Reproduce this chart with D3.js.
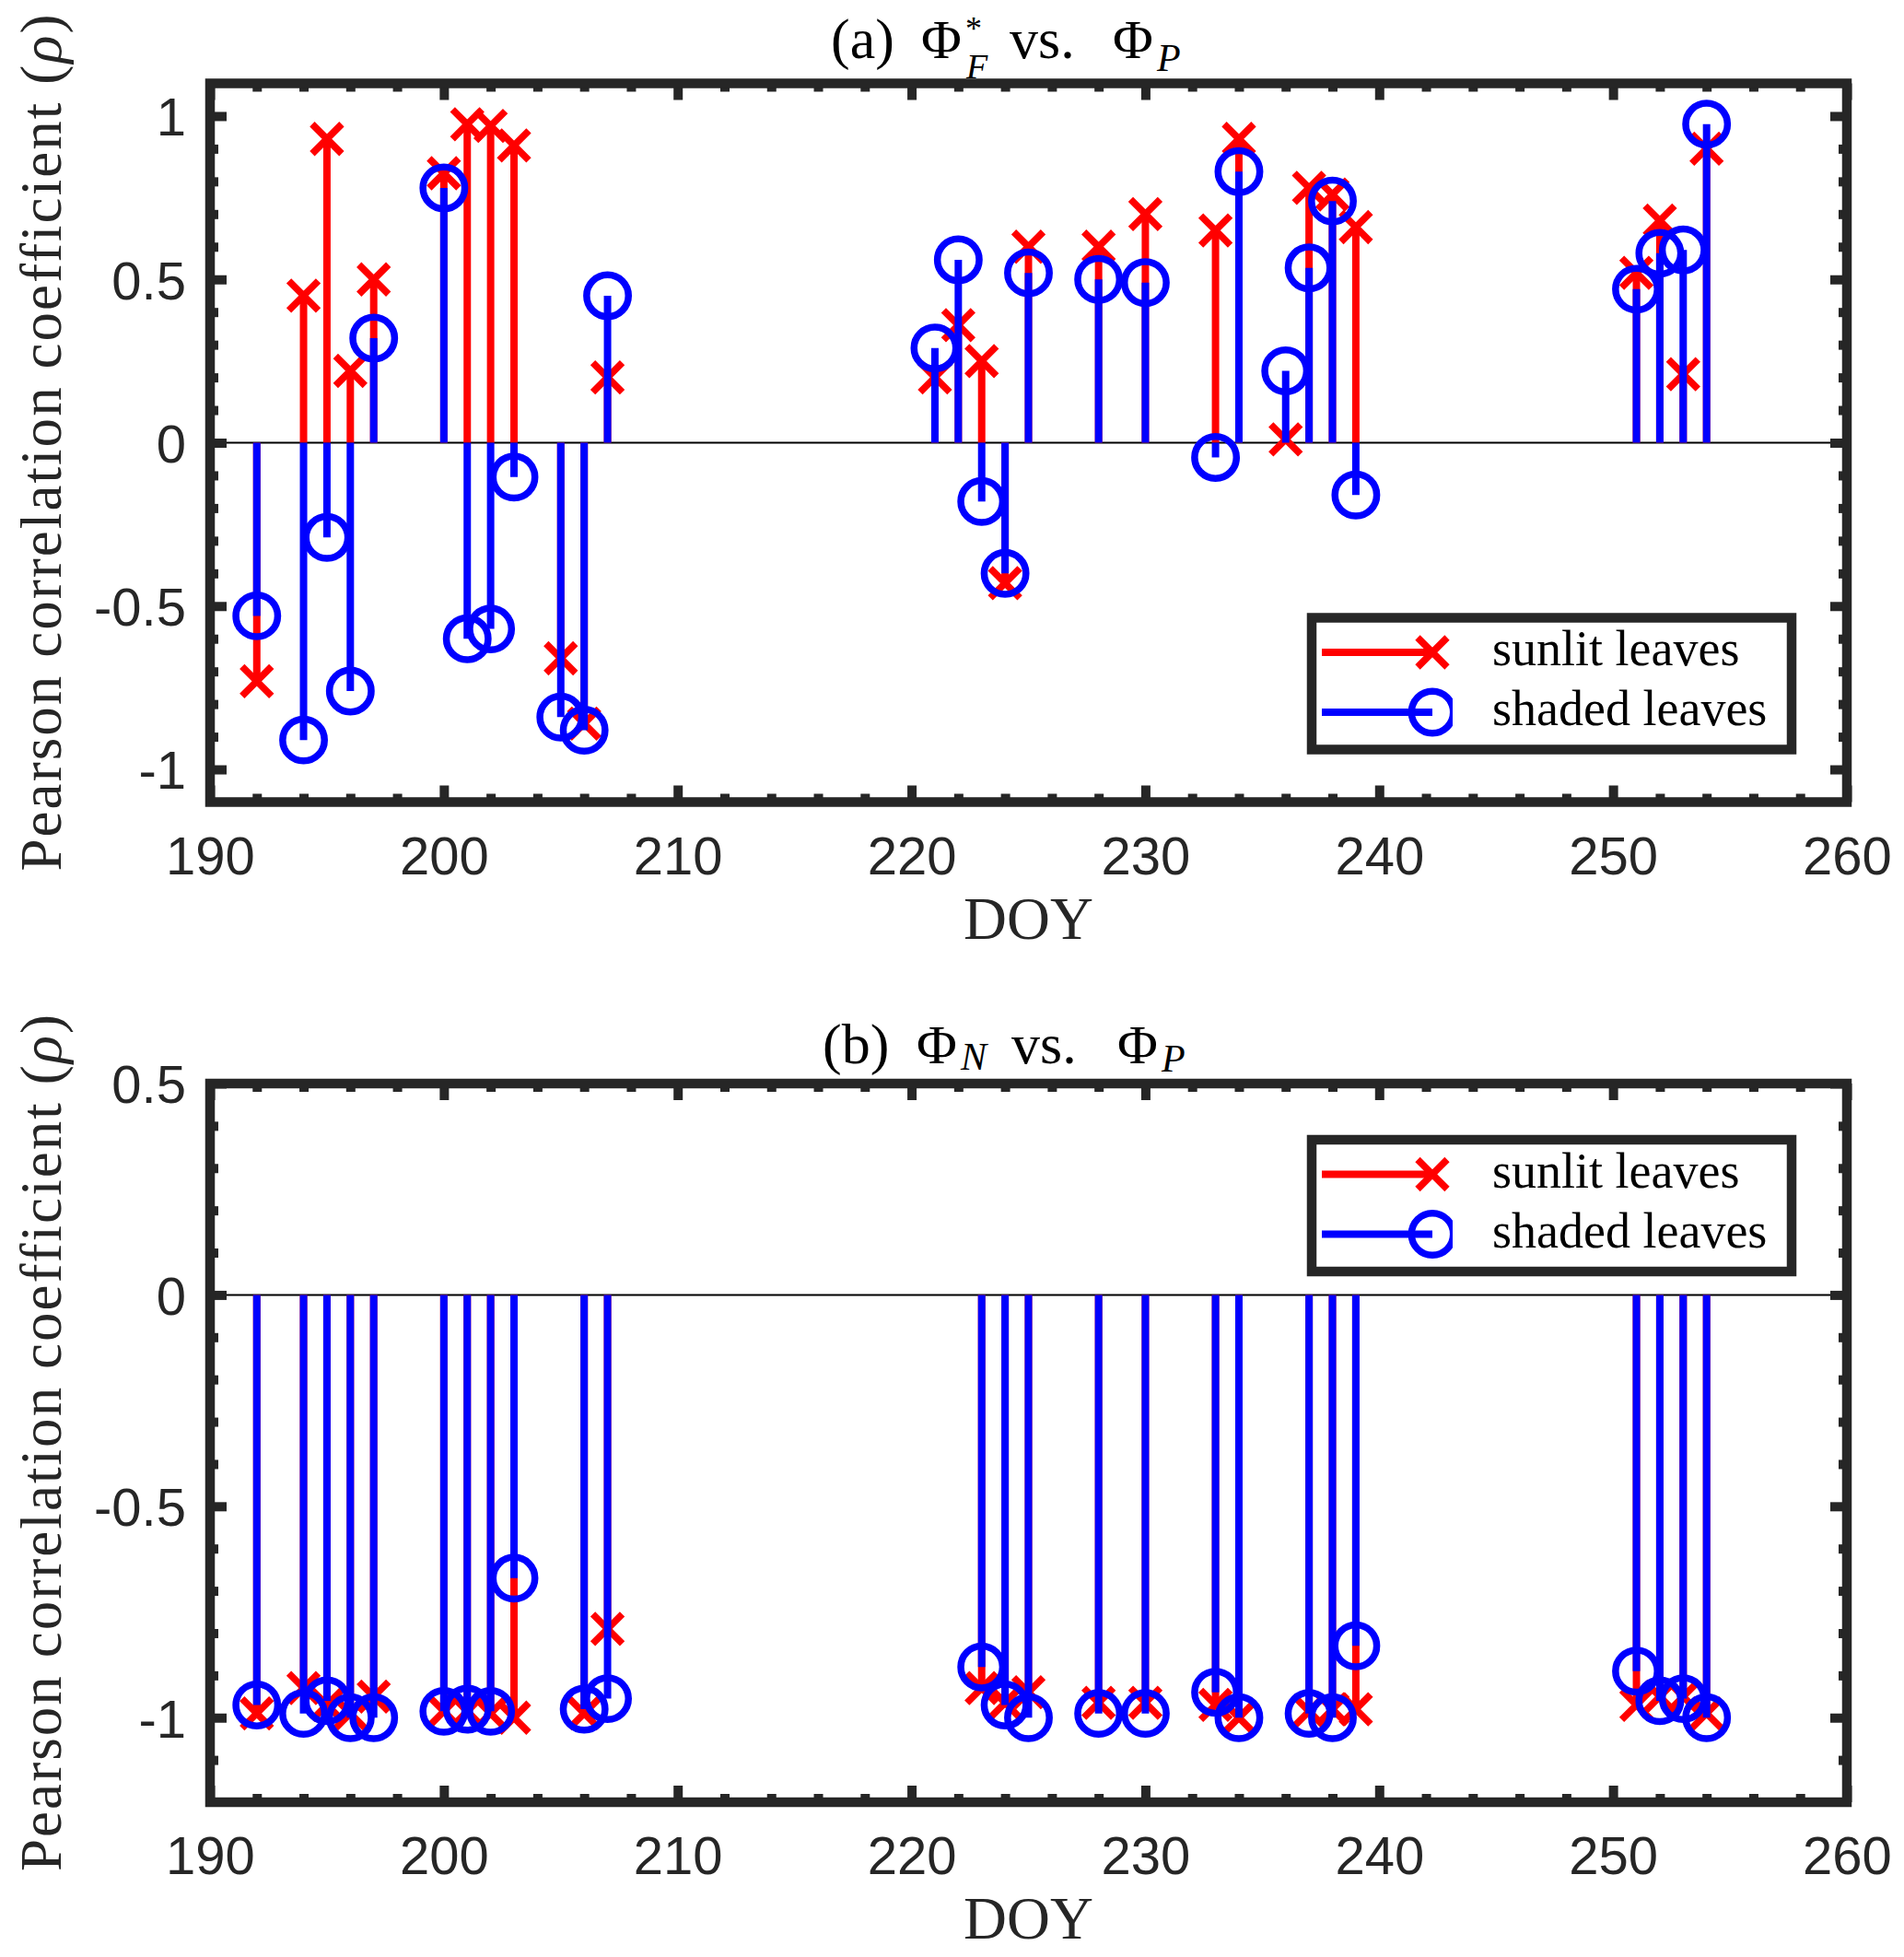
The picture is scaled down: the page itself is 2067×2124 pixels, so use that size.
<!DOCTYPE html>
<html>
  <head>
    <meta charset="utf-8">
    <title>Pearson correlation stems</title>
    <script src="https://d3js.org/d3.v7.min.js"></script>
    <style>
      body { margin: 0; background: #fff; }
      svg { display: block; background: #fff; }
    </style>
  </head>
  <body>
    <div id="chart"></div>
    <script>

      // (a) PhiF* vs PhiP : day of year and correlation per leaf class
      const doyA = [192, 194, 195, 196, 197, 200, 201, 202, 203, 205, 206, 207,
                    221, 222, 223, 224, 225, 228, 230, 233, 234, 236, 237, 238, 239,
                    251, 252, 253, 254];
      const sunlitA = [-0.73, 0.45, 0.93, 0.22, 0.50, 0.825, 0.975, 0.97, 0.91, -0.66, -0.86, 0.20,
                       0.20, 0.36, 0.25, -0.43, 0.60, 0.60, 0.70, 0.65, 0.93, 0.01, 0.78, 0.76, 0.66,
                       0.52, 0.68, 0.21, 0.90];
      const shadedA = [-0.53, -0.91, -0.29, -0.76, 0.32, 0.78, -0.60, -0.57, -0.105, -0.84, -0.88, 0.45,
                       0.29, 0.56, -0.18, -0.40, 0.52, 0.50, 0.49, -0.045, 0.83, 0.22, 0.535, 0.74, -0.16,
                       0.47, 0.58, 0.59, 0.975];

      // (b) PhiN vs PhiP
      const doyB = [192, 194, 195, 196, 197, 200, 201, 202, 203, 206, 207,
                    223, 224, 225, 228, 230, 233, 234, 237, 238, 239,
                    251, 252, 253, 254];
      const sunlitB = [-0.99, -0.93, -0.97, -0.99, -0.95, -0.985, -0.985, -0.99, -1.00, -0.99, -0.79,
                       -0.93, -0.965, -0.94, -0.965, -0.965, -0.97, -1.00, -0.985, -0.98, -0.98,
                       -0.97, -0.95, -0.95, -0.99];
      const shadedB = [-0.97, -0.99, -0.96, -1.00, -1.00, -0.985, -0.98, -0.985, -0.67, -0.98, -0.955,
                       -0.88, -0.97, -1.00, -0.99, -0.99, -0.94, -1.00, -0.99, -1.00, -0.83,
                       -0.89, -0.96, -0.955, -1.00];

      // axes ticks and texts
      const xTicks = [190, 200, 210, 220, 230, 240, 250, 260];
      const yTicksA = [-1, -0.5, 0, 0.5, 1];
      const yTicksB = [-1, -0.5, 0, 0.5];
      const legendLabels = ["sunlit leaves", "shaded leaves"];
      const titleA = ["(a)", "Φ", "*", "F", "vs.", "Φ", "P"];
      const titleB = ["(b)", "Φ", "N", "vs.", "Φ", "P"];
      const xLabel = "DOY";
      const yLabel = ["Pearson correlation coefficient (", "ρ", ")"];

      const width = 2067;
      const height = 2124;
      const left = 228, right = 2005, plotH = 780;
      const axisColor = "#262626";
      const colors = { sunlit: "#ff0000", shaded: "#0000ff" };
      const serif = "'Liberation Serif', 'Times New Roman', serif";
      const sans = "'Liberation Sans', Arial, sans-serif";

      const svg = d3.select("#chart")
        .append("svg")
        .attr("width", width)
        .attr("height", height);

      const x = d3.scaleLinear().domain([190, 260]).range([left, right]);
      const xMinor = d3.range(190, 261, 2).filter(v => v % 10 !== 0);

      // layout of title pieces: offset from title start, font size, italic, baseline shift
      const titleLayoutA = [
        {o: 0, s: 62}, {o: 98, s: 60}, {o: 146, s: 36, dy: -20}, {o: 147, s: 38, it: true, dy: 22},
        {o: 194, s: 62}, {o: 306, s: 60}, {o: 354, s: 42, it: true, dy: 14}
      ];
      const titleLayoutB = [
        {o: 0, s: 62}, {o: 102, s: 60}, {o: 150, s: 42, it: true, dy: 7},
        {o: 205, s: 62}, {o: 320, s: 60}, {o: 368, s: 42, it: true, dy: 9}
      ];

      const panels = [
        {top: 90.5, domain: [-1.1, 1.1], yTicks: yTicksA, doy: doyA, sunlit: sunlitA, shaded: shadedA,
         legendTop: 580, title: titleA, titleLayout: titleLayoutA, titleX: 902, titleBase: -27.5},
        {top: 1176, domain: [-1.2, 0.5], yTicks: yTicksB, doy: doyB, sunlit: sunlitB, shaded: shadedB,
         legendTop: 61, title: titleB, titleLayout: titleLayoutB, titleX: 893, titleBase: -22.5}
      ];

      const crossPath = a => `M${-a},${-a}L${a},${a}M${-a},${a}L${a},${-a}`;

      panels.forEach((p, pi) => {
        const bottom = p.top + plotH;
        const y = d3.scaleLinear().domain(p.domain).range([bottom, p.top]);
        const lo = Math.round(p.domain[0] * 10), hi = Math.round(p.domain[1] * 10);
        const yMinor = d3.range(lo + 1, hi).filter(v => v % 5 !== 0).map(v => v / 10);

        const g = svg.append("g");

        // baseline at zero
        g.append("line")
          .attr("x1", left).attr("x2", right)
          .attr("y1", y(0)).attr("y2", y(0))
          .attr("stroke", "#000").attr("stroke-width", 2);

        // one stem series: stems first then markers, red under blue
        const series = [
          {key: "sunlit", values: p.sunlit},
          {key: "shaded", values: p.shaded}
        ];
        series.forEach(s => {
          const pts = p.doy.map((d, i) => ({doy: d, v: s.values[i]}));
          const sg = g.append("g").attr("class", s.key);
          sg.selectAll("line.stem")
            .data(pts)
            .enter().append("line")
            .attr("class", "stem")
            .attr("x1", d => x(d.doy)).attr("x2", d => x(d.doy))
            .attr("y1", y(0)).attr("y2", d => y(d.v))
            .attr("stroke", colors[s.key])
            .attr("stroke-width", 8);
          if (s.key === "sunlit") {
            sg.selectAll("path.mark")
              .data(pts)
              .enter().append("path")
              .attr("class", "mark")
              .attr("d", crossPath(16))
              .attr("transform", d => `translate(${x(d.doy)},${y(d.v)})`)
              .attr("stroke", colors.sunlit)
              .attr("stroke-width", 7.5)
              .attr("fill", "none");
          } else {
            sg.selectAll("circle.mark")
              .data(pts)
              .enter().append("circle")
              .attr("class", "mark")
              .attr("cx", d => x(d.doy)).attr("cy", d => y(d.v))
              .attr("r", 22.7)
              .attr("stroke", colors.shaded)
              .attr("stroke-width", 7.5)
              .attr("fill", "none");
          }
        });

        // axes: major + minor ticks on all four sides, pointing inward
        const styleAxis = sel => {
          sel.select(".domain").remove();
          sel.selectAll(".tick line")
            .attr("stroke", axisColor)
            .attr("stroke-width", 10);
          sel.selectAll(".tick text")
            .attr("fill", axisColor);
          sel.attr("font-family", sans).attr("font-size", 58);
        };

        g.append("g")
          .attr("transform", `translate(0,${bottom})`)
          .call(d3.axisBottom(x).tickValues(xTicks).tickSize(-18).tickPadding(37))
          .call(styleAxis);
        g.append("g")
          .attr("transform", `translate(0,${bottom})`)
          .call(d3.axisBottom(x).tickValues(xMinor).tickSize(-9).tickFormat(""))
          .call(styleAxis);
        g.append("g")
          .attr("transform", `translate(0,${p.top})`)
          .call(d3.axisTop(x).tickValues(xTicks).tickSize(-18).tickFormat(""))
          .call(styleAxis);
        g.append("g")
          .attr("transform", `translate(0,${p.top})`)
          .call(d3.axisTop(x).tickValues(xMinor).tickSize(-9).tickFormat(""))
          .call(styleAxis);

        g.append("g")
          .attr("transform", `translate(${left},0)`)
          .call(d3.axisLeft(y).tickValues(p.yTicks).tickSize(-18).tickPadding(26).tickFormat(d => String(d)))
          .call(styleAxis)
          .call(a => a.selectAll(".tick text").attr("dy", "0.36em"));
        g.append("g")
          .attr("transform", `translate(${left},0)`)
          .call(d3.axisLeft(y).tickValues(yMinor).tickSize(-9).tickFormat(""))
          .call(styleAxis);
        g.append("g")
          .attr("transform", `translate(${right},0)`)
          .call(d3.axisRight(y).tickValues(p.yTicks).tickSize(-18).tickFormat(""))
          .call(styleAxis);
        g.append("g")
          .attr("transform", `translate(${right},0)`)
          .call(d3.axisRight(y).tickValues(yMinor).tickSize(-9).tickFormat(""))
          .call(styleAxis);

        // box
        g.append("rect")
          .attr("x", left).attr("y", p.top)
          .attr("width", right - left).attr("height", plotH)
          .attr("fill", "none")
          .attr("stroke", axisColor)
          .attr("stroke-width", 10.5);

        // axis labels
        g.append("text")
          .attr("x", (left + right) / 2)
          .attr("y", bottom + 148)
          .attr("text-anchor", "middle")
          .attr("font-family", serif)
          .attr("font-size", 65)
          .attr("fill", axisColor)
          .text(xLabel);

        const yl = g.append("text")
          .attr("transform", `translate(66,${(p.top + bottom) / 2}) rotate(-90)`)
          .attr("text-anchor", "middle")
          .attr("font-family", serif)
          .attr("font-size", 63)
          .attr("textLength", 930)
          .attr("lengthAdjust", "spacing")
          .attr("fill", axisColor);
        yLabel.forEach((t, i) => {
          yl.append("tspan")
            .attr("font-style", i === 1 ? "italic" : "normal")
            .text(t);
        });

        // title as one text with positioned pieces (sub/superscripts)
        const tx0 = p.titleX, ty0 = p.top + p.titleBase;
        const tt = g.append("text")
          .attr("x", tx0).attr("y", ty0)
          .attr("font-family", serif)
          .attr("fill", "#000");
        p.title.forEach((t, i) => {
          const l = p.titleLayout[i];
          tt.append("tspan")
            .attr("x", tx0 + l.o)
            .attr("y", ty0 + (l.dy || 0))
            .attr("font-size", l.s)
            .attr("font-style", l.it ? "italic" : "normal")
            .text(t);
        });

        // legend
        const lx0 = 1424, lx1 = 1945, lh = 143;
        const ly0 = p.top + p.legendTop;
        const lg = g.append("g");
        lg.append("rect")
          .attr("x", lx0).attr("y", ly0)
          .attr("width", lx1 - lx0).attr("height", lh)
          .attr("fill", "#fff")
          .attr("stroke", axisColor)
          .attr("stroke-width", 10.5);

        const clipId = "legclip" + pi;
        svg.append("clipPath").attr("id", clipId)
          .append("rect")
          .attr("x", lx0 + 5).attr("y", ly0 + 5)
          .attr("width", 1577 - lx0 - 5).attr("height", lh - 10);

        const rowY = [ly0 + 37.5, ly0 + 102.5];
        const icons = lg.append("g").attr("clip-path", `url(#${clipId})`);
        ["sunlit", "shaded"].forEach((k, i) => {
          icons.append("line")
            .attr("x1", 1435).attr("x2", 1555)
            .attr("y1", rowY[i]).attr("y2", rowY[i])
            .attr("stroke", colors[k])
            .attr("stroke-width", 8);
          if (k === "sunlit") {
            icons.append("path")
              .attr("d", crossPath(16))
              .attr("transform", `translate(1555,${rowY[i]})`)
              .attr("stroke", colors[k])
              .attr("stroke-width", 7.5)
              .attr("fill", "none");
          } else {
            icons.append("circle")
              .attr("cx", 1555).attr("cy", rowY[i])
              .attr("r", 22.7)
              .attr("stroke", colors[k])
              .attr("stroke-width", 7.5)
              .attr("fill", "none");
          }
          lg.append("text")
            .attr("x", 1620)
            .attr("y", rowY[i] + 14)
            .attr("font-family", serif)
            .attr("font-size", 54)
            .attr("fill", "#000")
            .text(legendLabels[i]);
        });
      });

    </script>
  </body>
</html>
